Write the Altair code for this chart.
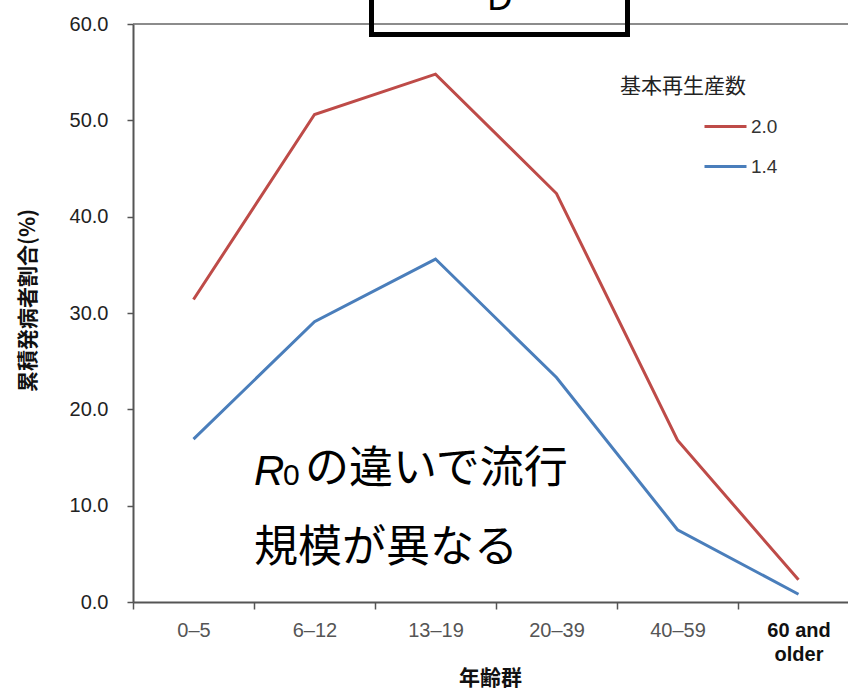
import altair as alt
import pandas as pd

ages = ["0–5", "6–12", "13–19", "20–39", "40–59", "60 and older"]
r0_labels = ["2.0", "1.4"]
attack_r20 = [31.4, 50.6, 54.8, 42.4, 16.8, 2.3]
attack_r14 = [16.9, 29.1, 35.6, 23.3, 7.5, 0.8]
y_ticks = [0, 10, 20, 30, 40, 50, 60]
colors = ["#BE4B48", "#4A7EBB"]

rows = []
for lab, vals in zip(r0_labels, [attack_r20, attack_r14]):
    for a, v in zip(ages, vals):
        rows.append({"age": a, "R0": lab, "value": v})
df = pd.DataFrame(rows)

W, H = 715, 578
AX = "#555555"
JP = "Noto Sans CJK JP"
LAT = "Liberation Sans"

x_enc = alt.X(
    "age:N", sort=ages, bandPosition=0.5,
    scale=alt.Scale(type="band", domain=ages, range=[0, 726], paddingInner=0, paddingOuter=0),
    axis=alt.Axis(
        title="年齢群", titleFont=JP, titleFontSize=21, titleFontWeight="bold", titleColor="#111",
        titleX=357, titleY=76, titleBaseline="middle", titleAlign="center",
        tickBand="extent", tickSize=7, tickColor=AX, tickWidth=1.5,
        domainColor=AX, domainWidth=2,
        labelAngle=0, labelFont=LAT, labelFontSize=20, labelPadding=11, labelBaseline="top",
        labelLineHeight=24,
        labelColor={"condition": {"test": "datum.value == '60 and older'", "value": "#111"}, "value": "#555"},
        labelFontWeight={"condition": {"test": "datum.value == '60 and older'", "value": "bold"}, "value": "normal"},
        labelExpr="datum.value == '60 and older' ? ['60 and', 'older'] : datum.value",
    ),
)

y_enc = alt.Y(
    "value:Q",
    scale=alt.Scale(domain=[0, 60], nice=False, zero=True),
    axis=alt.Axis(
        values=y_ticks, format=".1f", grid=False,
        title="累積発病者割合(%)", titleFont=JP, titleFontSize=21, titleFontWeight="bold", titleColor="#111",
        titleAngle=270, titleX=-105, titleY=276, titleAlign="center", titleBaseline="middle",
        labelFont=LAT, labelFontSize=20, labelColor="#222", labelPadding=19,
        tickSize=6, tickColor=AX, tickWidth=1.5, domainColor=AX, domainWidth=2,
    ),
)

lines = alt.Chart(df).mark_line(strokeWidth=3).encode(
    x=x_enc, y=y_enc,
    color=alt.Color(
        "R0:N", sort=r0_labels,
        scale=alt.Scale(domain=r0_labels, range=colors),
        legend=alt.Legend(
            title=None, orient="none", legendX=570, legendY=80, padding=0,
            symbolType="stroke", symbolSize=1764, symbolStrokeWidth=3,
            labelFont=LAT, labelFontSize=19, labelColor="#333", labelOffset=3, rowPadding=7,
        ),
    ),
)

one = alt.Data(values=[{}])

top_rule = alt.Chart(one).mark_rule(color="#666666", strokeWidth=1.5).encode(y=alt.datum(60))

legend_title = alt.Chart(one).mark_text(
    text="基本再生産数", font=JP, fontSize=21, color="#222", align="left", baseline="middle"
).encode(x=alt.value(487), y=alt.value(63))

ann_R = alt.Chart(one).mark_text(
    text="R", font=LAT, fontSize=42, fontStyle="italic", color="#000", align="left", baseline="alphabetic"
).encode(x=alt.value(121), y=alt.value(461))
ann_0 = alt.Chart(one).mark_text(
    text="0", font=LAT, fontSize=30, color="#000", align="left", baseline="alphabetic"
).encode(x=alt.value(150), y=alt.value(461))
ann_1 = alt.Chart(one).mark_text(
    text="の違いで流行", font=JP, fontSize=44, color="#000", align="left", baseline="middle"
).encode(x=alt.value(172), y=alt.value(446))
ann_2 = alt.Chart(one).mark_text(
    text="規模が異なる", font=JP, fontSize=44, color="#000", align="left", baseline="middle"
).encode(x=alt.value(121), y=alt.value(525))

box = alt.Chart(one).mark_rect(filled=False, stroke="#000", strokeWidth=5).encode(
    x=alt.value(238.5), x2=alt.value(494.5), y=alt.value(-80), y2=alt.value(10.5)
)
box_d = alt.Chart(one).mark_text(
    text="D", font="Noto Sans", fontSize=36, color="#000", align="center", baseline="alphabetic"
).encode(x=alt.value(367), y=alt.value(-14))

chart = alt.layer(
    top_rule, lines, legend_title, ann_R, ann_0, ann_1, ann_2, box, box_d
).properties(
    width=W, height=H,
    autosize=alt.AutoSizeParams(type="none"),
    padding={"left": 133, "top": 24, "right": 0, "bottom": 90},
    background="white",
).configure_view(stroke=None)

chart.save("out.html", embed_options={"renderer": "svg", "actions": False})
